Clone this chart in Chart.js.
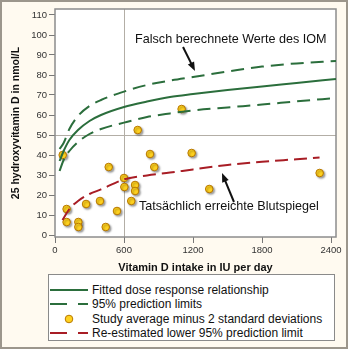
<!DOCTYPE html>
<html>
<head>
<meta charset="utf-8">
<script src="https://cdn.jsdelivr.net/npm/chart.js@4"></script>
<style>
  body { margin: 0; background: #fff; font-family: "Liberation Sans", Arial, sans-serif; }
  #frame { position: absolute; left: 0; top: 0; width: 344px; height: 345px; border: 2px solid #9c968c; background: #fffaf0; }
  #chart { position: absolute; left: 0; top: 0; }
  #legend { position: absolute; left: 48px; top: 274px; width: 285px; height: 65px; background: #fff; border: 1px solid #8a8a8a; }
  .row { position: absolute; left: 0; width: 285px; height: 14px; font-size: 12px; line-height: 14px; color: #111; white-space: nowrap; }
  .row svg { position: absolute; left: 1px; top: 0; }
  .row span { position: absolute; left: 43px; top: 0; }
</style>
</head>
<body>
<div id="frame"></div>
<canvas id="chart" width="350" height="278"></canvas>
<div id="legend"></div>
<script>
// Vitamin D dose response //

var curveX = [40, 75, 125, 200, 300, 400, 600, 800, 1000, 1200, 1500, 1800, 2100, 2443];
var fittedY = [37, 42, 47.5, 52.5, 57, 60, 64, 66.7, 69, 70.5, 72.5, 74.3, 76, 78];
var upperY = [43, 46, 53, 59.5, 64.5, 67.5, 71.7, 75, 77.2, 79, 81.7, 84.2, 85.8, 87];
var lowerY = [32, 37.5, 42, 46.5, 50.5, 53, 56.2, 59, 60.8, 62.3, 63.8, 65.2, 66.8, 68.5];

var redX = [65, 125, 200, 300, 400, 600, 800, 1000, 1200, 1500, 1800, 2100, 2300];
var redY = [7.5, 13, 17, 20.5, 22.8, 27.8, 29.8, 31.2, 32.8, 35, 36.6, 37.9, 38.8];

var studyX = [67, 101, 101, 203, 203, 270, 391, 441, 467, 539, 600, 603, 663, 696, 696, 719, 826, 863, 1101, 1188, 1341, 2301];
var studyY = [40, 13, 6.5, 6.5, 4, 15.5, 17, 4, 34, 12, 28.5, 24, 17, 25, 22, 52.5, 40.5, 34, 63, 41, 23, 31];

var xTicks = [0, 600, 1200, 1800, 2400];
var yTicks = [0, 10, 20, 30, 40, 50, 60, 70, 80, 90, 100, 110];

var legendLabels = ['Fitted dose response relationship', '95% prediction limits',
  'Study average minus 2 standard deviations', 'Re-estimated lower 95% prediction limit'];

var green = '#2b6e3c';
var red = '#a81d25';

function pts(xs, ys) {
  return xs.map(function(x, i) { return {x: x, y: ys[i]}; });
}

// white plot area, box and the two reference lines
var plotFrame = {
  id: 'plotFrame',
  beforeDatasetsDraw: function(chart) {
    var a = chart.chartArea, ctx = chart.ctx;
    var x600 = chart.scales.x.getPixelForValue(600);
    var y50 = chart.scales.y.getPixelForValue(50);
    ctx.save();
    ctx.fillStyle = '#fff';
    ctx.fillRect(a.left, a.top, a.right - a.left, a.bottom - a.top);
    ctx.strokeStyle = '#b3aea6';
    ctx.lineWidth = 1;
    ctx.beginPath();
    ctx.moveTo(x600 + 0.5, a.top); ctx.lineTo(x600 + 0.5, a.bottom);
    ctx.moveTo(a.left, y50 + 0.5); ctx.lineTo(a.right, y50 + 0.5);
    ctx.stroke();
    ctx.strokeStyle = '#8c8c8c';
    ctx.lineWidth = 1.5;
    ctx.strokeRect(a.left, a.top, a.right - a.left, a.bottom - a.top);
    ctx.restore();
  }
};

// drop shadow under the study points
var pointShadow = {
  id: 'pointShadow',
  beforeDatasetDraw: function(chart, args) {
    if (args.index !== 4) return;
    var ctx = chart.ctx;
    ctx.save();
    ctx.shadowColor = 'rgba(0,0,0,0.35)';
    ctx.shadowOffsetX = 1.5;
    ctx.shadowOffsetY = 1.5;
    ctx.shadowBlur = 2;
  },
  afterDatasetDraw: function(chart, args) {
    if (args.index !== 4) return;
    chart.ctx.restore();
  }
};

function arrow(ctx, x1, y1, x2, y2) {
  var ang = Math.atan2(y2 - y1, x2 - x1);
  ctx.beginPath();
  ctx.moveTo(x1, y1);
  ctx.lineTo(x2 - 6 * Math.cos(ang), y2 - 6 * Math.sin(ang));
  ctx.stroke();
  ctx.beginPath();
  ctx.moveTo(x2, y2);
  ctx.lineTo(x2 - 9 * Math.cos(ang) + 3.5 * Math.sin(ang), y2 - 9 * Math.sin(ang) - 3.5 * Math.cos(ang));
  ctx.lineTo(x2 - 9 * Math.cos(ang) - 3.5 * Math.sin(ang), y2 - 9 * Math.sin(ang) + 3.5 * Math.cos(ang));
  ctx.closePath();
  ctx.fill();
}

var notes = {
  id: 'notes',
  afterDatasetsDraw: function(chart) {
    var sx = chart.scales.x, sy = chart.scales.y, ctx = chart.ctx;
    ctx.save();
    ctx.fillStyle = '#111';
    ctx.strokeStyle = '#111';
    ctx.lineWidth = 2;
    ctx.font = '12.6px "Liberation Sans", Arial, sans-serif';
    ctx.textBaseline = 'middle';
    ctx.fillText('Falsch berechnete Werte des IOM', sx.getPixelForValue(696), sy.getPixelForValue(97.5));
    ctx.fillText('Tatsächlich erreichte Blutspiegel', sx.getPixelForValue(730), sy.getPixelForValue(14));
    arrow(ctx, sx.getPixelForValue(1113), sy.getPixelForValue(94), sx.getPixelForValue(1217), sy.getPixelForValue(82));
    arrow(ctx, sx.getPixelForValue(1556), sy.getPixelForValue(16.5), sx.getPixelForValue(1452), sy.getPixelForValue(31));
    ctx.restore();
  }
};

var lineOpts = {type: 'line', pointRadius: 0, borderWidth: 2, fill: false, cubicInterpolationMode: 'monotone'};

var chart = new Chart(document.getElementById('chart'), {
  type: 'scatter',
  data: {
    datasets: [
      Object.assign({}, lineOpts, {label: legendLabels[0], data: pts(curveX, fittedY), borderColor: green}),
      Object.assign({}, lineOpts, {label: legendLabels[1], data: pts(curveX, upperY), borderColor: green, borderDash: [13, 7]}),
      Object.assign({}, lineOpts, {label: legendLabels[1], data: pts(curveX, lowerY), borderColor: green, borderDash: [13, 7]}),
      Object.assign({}, lineOpts, {label: legendLabels[3], data: pts(redX, redY), borderColor: red, borderDash: [13, 6]}),
      {
        label: legendLabels[2],
        data: pts(studyX, studyY),
        pointRadius: 3.8,
        backgroundColor: '#ffd21f',
        borderColor: '#b87800',
        borderWidth: 1
      }
    ]
  },
  options: {
    responsive: false,
    animation: false,
    devicePixelRatio: 1,
    layout: { padding: { top: 9, right: 14, left: 0, bottom: 0 } },
    plugins: { legend: { display: false }, tooltip: { enabled: false } },
    scales: {
      x: {
        type: 'linear', min: 0, max: 2443,
        afterBuildTicks: function(s) { s.ticks = xTicks.map(function(v) { return {value: v}; }); },
        afterFit: function(s) { s.height = 41; },
        grid: { drawOnChartArea: false, drawTicks: true, tickLength: 6, color: '#777' },
        border: { display: false },
        ticks: { font: { size: 9.5 }, color: '#333', padding: 2, maxRotation: 0,
          callback: function(v) { return String(v); } },
        title: { display: true, text: 'Vitamin D intake in IU per day', color: '#111',
          font: { size: 11, weight: 'bold' }, padding: { top: 0, bottom: 3 } }
      },
      y: {
        type: 'linear', min: -1, max: 113,
        afterBuildTicks: function(s) { s.ticks = yTicks.map(function(v) { return {value: v}; }); },
        afterFit: function(s) { s.width = 55; },
        grid: { drawOnChartArea: false, drawTicks: true, tickLength: 6, color: '#777' },
        border: { display: false },
        ticks: { font: { size: 9.5 }, color: '#333', padding: 2,
          callback: function(v) { return String(v); } },
        title: { display: true, text: '25 hydroxyvitamin D in nmol/L', color: '#111',
          font: { size: 10.5, weight: 'bold' }, padding: { top: 10, bottom: 0 } }
      }
    }
  },
  plugins: [plotFrame, pointShadow, notes]
});

// legend box under the chart
var samples = [
  '<line x1="0" y1="7" x2="38" y2="7" stroke="' + green + '" stroke-width="2"/>',
  '<line x1="0" y1="7" x2="38" y2="7" stroke="' + green + '" stroke-width="2" stroke-dasharray="17 11"/>',
  '<circle cx="19" cy="7" r="3.8" fill="#ffd21f" stroke="#b87800" stroke-width="1"/>',
  '<line x1="0" y1="7" x2="38" y2="7" stroke="' + red + '" stroke-width="2" stroke-dasharray="17 11"/>'
];
var rowTops = [7.5, 21.5, 36.5, 50.5];
var legend = document.getElementById('legend');
legendLabels.forEach(function(label, i) {
  var row = document.createElement('div');
  row.className = 'row';
  row.style.top = rowTops[i] + 'px';
  row.innerHTML = '<svg width="40" height="14">' + samples[i] + '</svg><span>' + label + '</span>';
  legend.appendChild(row);
});
</script>
</body>
</html>
